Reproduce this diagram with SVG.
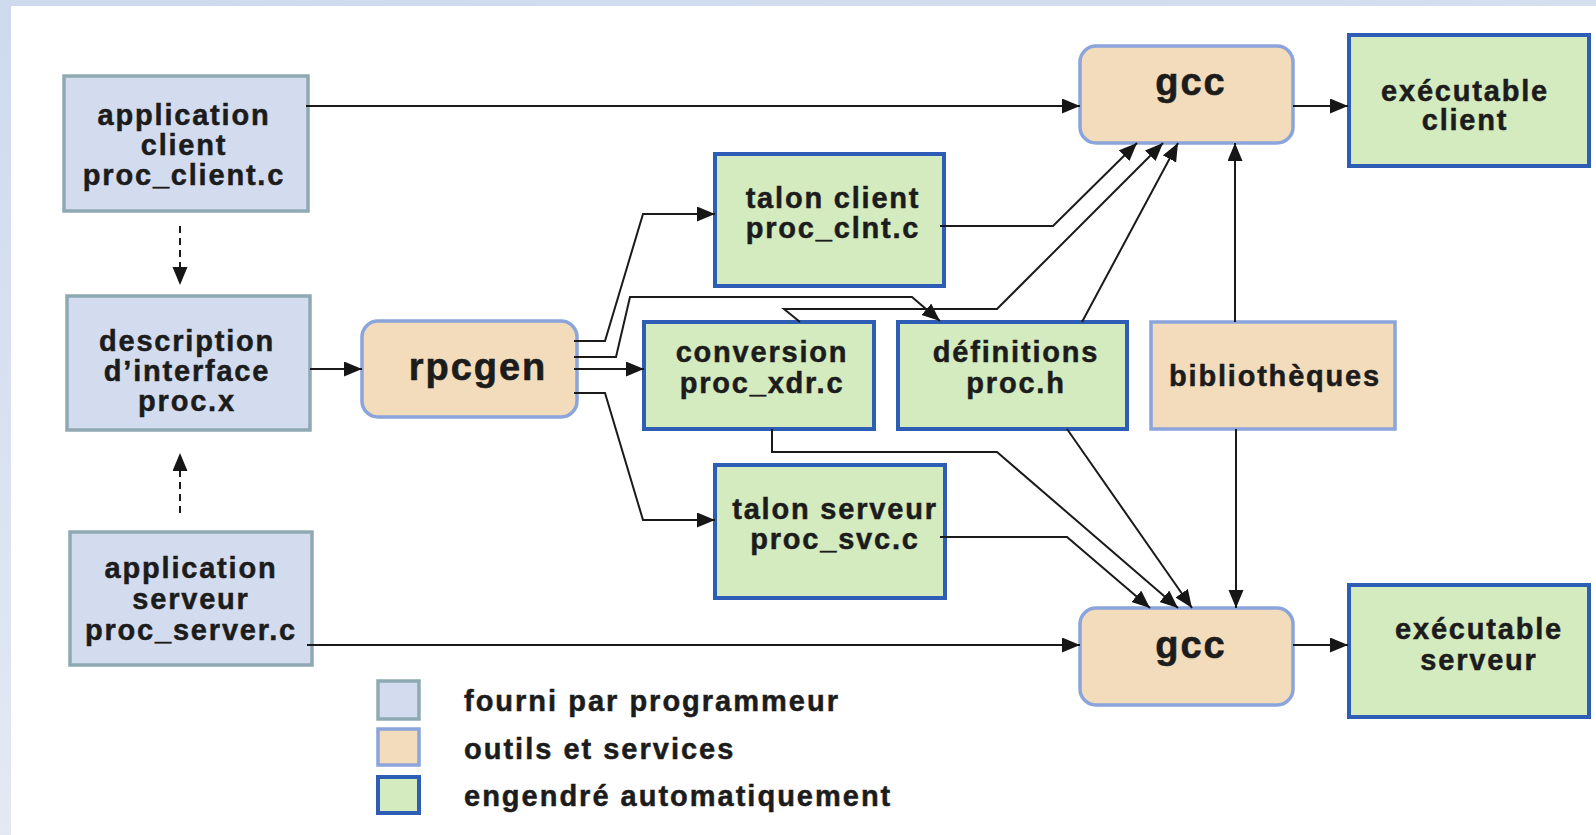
<svg xmlns="http://www.w3.org/2000/svg" width="1596" height="835" viewBox="0 0 1596 835">
  <defs>
    <linearGradient id="frame" x1="0" y1="0" x2="0.3" y2="1">
      <stop offset="0" stop-color="#cddaee"/>
      <stop offset="1" stop-color="#e6eaf4"/>
    </linearGradient>
    <marker id="arrow" markerUnits="userSpaceOnUse" markerWidth="19" markerHeight="16" refX="18" refY="7.5" orient="auto">
      <path d="M0,0 L18,7.5 L0,15 z" fill="#161616"/>
    </marker>
    <style>
      .lbl { font-family: "Liberation Sans", Arial, sans-serif; font-weight: bold; font-size: 29px; letter-spacing: 1.8px; fill: #1c1c1c; stroke: #1c1c1c; stroke-width: 0.5px; text-anchor: middle; }
      .big { font-size: 38px; letter-spacing: 2px; stroke-width: 0.6px; }
      .leg { text-anchor: start; letter-spacing: 2px; }
      .user { fill: #d3dcee; stroke: #8ea9b2; stroke-width: 3.5; }
      .tool { fill: #f3dcbc; stroke: #8ba4dc; stroke-width: 3.5; }
      .gen { fill: #d4eabf; stroke: #2d5db5; stroke-width: 4; }
      .wire { fill: none; stroke: #1a1a1a; stroke-width: 2; marker-end: url(#arrow); }
      .dash { stroke-dasharray: 7 5; }
    </style>
  </defs>

  <!-- page frame -->
  <rect x="0" y="0" width="1596" height="835" fill="url(#frame)"/>
  <rect x="11" y="6" width="1585" height="829" fill="#ffffff"/>

  <!-- written by the programmer -->
  <g id="app-client">
    <rect class="user" x="64" y="76" width="244" height="135"/>
    <text class="lbl" x="184" y="125">application</text>
    <text class="lbl" x="184" y="155">client</text>
    <text class="lbl" x="184" y="185">proc_client.c</text>
  </g>
  <g id="interface">
    <rect class="user" x="67" y="296" width="243" height="134"/>
    <text class="lbl" x="187" y="351">description</text>
    <text class="lbl" x="187" y="381">d’interface</text>
    <text class="lbl" x="187" y="411">proc.x</text>
  </g>
  <g id="app-server">
    <rect class="user" x="70" y="532" width="242" height="133"/>
    <text class="lbl" x="191" y="578">application</text>
    <text class="lbl" x="191" y="609">serveur</text>
    <text class="lbl" x="191" y="640">proc_server.c</text>
  </g>

  <!-- tools -->
  <g id="rpcgen">
    <rect class="tool" x="362" y="321" width="215" height="96" rx="16"/>
    <text class="lbl big" x="478" y="380">rpcgen</text>
  </g>
  <g id="gcc-client">
    <rect class="tool" x="1080" y="46" width="213" height="97" rx="16"/>
    <text class="lbl big" x="1191" y="95">gcc</text>
  </g>
  <g id="gcc-server">
    <rect class="tool" x="1080" y="608" width="213" height="97" rx="16"/>
    <text class="lbl big" x="1191" y="658">gcc</text>
  </g>
  <g id="libraries">
    <rect class="tool" x="1151" y="322" width="244" height="107"/>
    <text class="lbl" x="1275" y="386">bibliothèques</text>
  </g>

  <!-- generated files -->
  <g id="stub-client">
    <rect class="gen" x="715" y="154" width="229" height="132"/>
    <text class="lbl" x="833" y="208">talon client</text>
    <text class="lbl" x="833" y="238">proc_clnt.c</text>
  </g>
  <g id="xdr">
    <rect class="gen" x="644" y="322" width="230" height="107"/>
    <text class="lbl" x="762" y="362">conversion</text>
    <text class="lbl" x="762" y="393">proc_xdr.c</text>
  </g>
  <g id="header">
    <rect class="gen" x="898" y="322" width="229" height="107"/>
    <text class="lbl" x="1016" y="362">définitions</text>
    <text class="lbl" x="1016" y="393">proc.h</text>
  </g>
  <g id="stub-server">
    <rect class="gen" x="715" y="465" width="230" height="133"/>
    <text class="lbl" x="835" y="519">talon serveur</text>
    <text class="lbl" x="835" y="549">proc_svc.c</text>
  </g>
  <g id="exe-client">
    <rect class="gen" x="1349" y="35" width="240" height="131"/>
    <text class="lbl" x="1465" y="101">exécutable</text>
    <text class="lbl" x="1465" y="130">client</text>
  </g>
  <g id="exe-server">
    <rect class="gen" x="1349" y="585" width="240" height="132"/>
    <text class="lbl" x="1479" y="639">exécutable</text>
    <text class="lbl" x="1479" y="670">serveur</text>
  </g>

  <!-- connectors -->
  <g id="connectors">
    <path class="wire dash" d="M180,226 V285"/>
    <path class="wire dash" d="M180,513 V453"/>
    <path class="wire" d="M306,106 H1080"/>
    <path class="wire" d="M307,645 H1080"/>
    <path class="wire" d="M1293,106 H1348"/>
    <path class="wire" d="M1293,645 H1348"/>
    <path class="wire" d="M310,369 H362"/>
    <path class="wire" d="M574,341 H605 L643,214 H715"/>
    <path class="wire" d="M574,357 H616 L630,297 H912 L940,321"/>
    <path class="wire" d="M574,369 H644"/>
    <path class="wire" d="M574,393 H605 L643,520 H715"/>
    <path class="wire" d="M940,226 H1053 L1137,143"/>
    <path class="wire" d="M800,322 L784,309 H997 L1163,143"/>
    <path class="wire" d="M1082,322 L1178,143"/>
    <path class="wire" d="M1235,322 V143"/>
    <path class="wire" d="M1236,429 V608"/>
    <path class="wire" d="M772,429 V452 H997 L1178,608"/>
    <path class="wire" d="M1067,429 L1192,608"/>
    <path class="wire" d="M940,537 H1067 L1150,608"/>
  </g>

  <!-- legend -->
  <g id="legend">
    <rect class="user" x="378" y="681" width="41" height="38"/>
    <rect class="tool" x="378" y="729" width="41" height="36"/>
    <rect class="gen" x="378" y="777" width="41" height="36"/>
    <text class="lbl leg" x="464" y="711">fourni par programmeur</text>
    <text class="lbl leg" x="464" y="759">outils et services</text>
    <text class="lbl leg" x="464" y="806">engendré automatiquement</text>
  </g>
</svg>
